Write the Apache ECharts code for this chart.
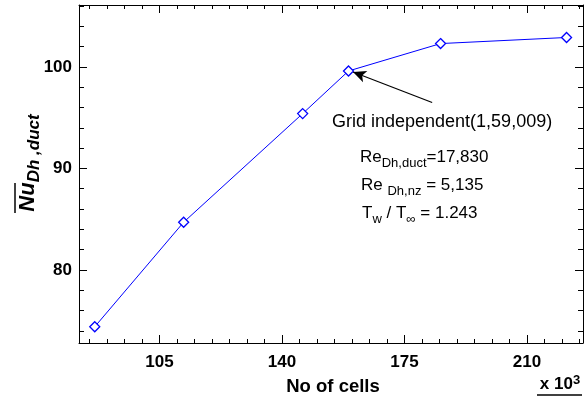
<!DOCTYPE html>
<html>
<head>
<meta charset="utf-8">
<script src="https://cdn.jsdelivr.net/npm/echarts@6/dist/echarts.min.js"></script>
<style>
  html, body { margin: 0; padding: 0; background: #fff; }
  #chart { width: 588px; height: 400px; }
</style>
</head>
<body>
<div id="chart"></div>
<script>
// grid size (x 10^3 cells) vs averaged duct Nusselt number
const cells = [86.5, 111.9, 145.9, 159.0, 185.3, 221.3];
const nusselt = [74.4, 84.7, 95.4, 99.6, 102.3, 102.9];

const xLabels = [105, 140, 175, 210];
const yLabels = [80, 90, 100];
const xMinor = [];
for (let v = 85; v <= 225; v += 5) if (xLabels.indexOf(v) < 0) xMinor.push(v);
const yMinor = [];
for (let v = 74; v <= 106; v += 2) if (yLabels.indexOf(v) < 0) yMinor.push(v);

// arrow from label to the grid-independent point
const arrowFrom = [182.9, 96.5];
const arrowTo = [160.3, 99.5];

const FONT = '"Liberation Sans", Arial, sans-serif';
const X_MIN = 82, X_MAX = 226, Y_MIN = 72.8, Y_MAX = 106.1;

function xAxisDef(pos, ticks, len, showLine, labels) {
    return {
        type: 'value', position: pos, min: X_MIN, max: X_MAX,
        axisLine: { show: showLine, onZero: false, lineStyle: { color: '#000', width: 1 } },
        axisTick: { show: true, inside: true, length: len, customValues: ticks, lineStyle: { color: '#000' } },
        axisLabel: labels ? { show: true, customValues: ticks, color: '#000', fontFamily: FONT, fontWeight: 'bold', fontSize: 17, margin: 11 } : { show: false },
        splitLine: { show: false }
    };
}
function yAxisDef(pos, ticks, len, showLine, labels) {
    return {
        type: 'value', position: pos, min: Y_MIN, max: Y_MAX,
        axisLine: { show: showLine, onZero: false, lineStyle: { color: '#000', width: 1 } },
        axisTick: { show: true, inside: true, length: len, customValues: ticks, lineStyle: { color: '#000' } },
        axisLabel: labels ? { show: true, customValues: ticks, color: '#000', fontFamily: FONT, fontWeight: 'bold', fontSize: 17, margin: 7 } : { show: false },
        splitLine: { show: false }
    };
}

const chart = echarts.init(document.getElementById('chart'));
const option = {
    animation: false,
    backgroundColor: '#fff',
    grid: { left: 79, right: 5, top: 5, bottom: 57 },
    xAxis: [
        xAxisDef('bottom', xLabels, 8, true, true),
        xAxisDef('bottom', xMinor, 4, false, false),
        xAxisDef('top', xLabels, 8, true, false),
        xAxisDef('top', xMinor, 4, false, false)
    ],
    yAxis: [
        yAxisDef('left', yLabels, 8, true, true),
        yAxisDef('left', yMinor, 5, false, false),
        yAxisDef('right', yLabels, 8, true, false),
        yAxisDef('right', yMinor, 5, false, false)
    ],
    series: [{
        type: 'line',
        xAxisIndex: 0,
        yAxisIndex: 0,
        data: cells.map((c, i) => [c, nusselt[i]]),
        symbol: 'diamond',
        symbolSize: 10,
        lineStyle: { color: '#0000ff', width: 1 },
        itemStyle: { color: '#fff', borderColor: '#0000ff', borderWidth: 1.3 },
        markLine: {
            silent: true,
            symbol: ['none', 'arrow'],
            symbolSize: [9, 13],
            label: { show: false },
            lineStyle: { color: '#000', width: 1.2, type: 'solid' },
            data: [[{ coord: arrowFrom }, { coord: arrowTo }]]
        }
    }],
    graphic: [
        {
            type: 'text', x: 27.5, y: 163, rotation: Math.PI / 2,
            style: {
                text: '{nu|Nu}{sub|Dh ,duct}',
                align: 'center', verticalAlign: 'middle', fill: '#000',
                rich: {
                    nu: { fontFamily: FONT, fontSize: 22, fontWeight: 'bold', fontStyle: 'italic', lineHeight: 30, fill: '#000' },
                    sub: { fontFamily: FONT, fontSize: 17, fontWeight: 'bold', fontStyle: 'italic', verticalAlign: 'bottom', fill: '#000' }
                }
            }
        },
        { type: 'line', shape: { x1: 15, y1: 183, x2: 15, y2: 213 }, style: { stroke: '#000', lineWidth: 1.5 } },
        {
            type: 'text', x: 333, y: 387,
            style: { text: 'No of cells', align: 'center', verticalAlign: 'middle', fill: '#000', font: 'bold 18.5px ' + FONT }
        },
        {
            type: 'text', x: 560, y: 384,
            style: {
                text: '{a|x 10}{s|3}', align: 'center', verticalAlign: 'middle', fill: '#000',
                rich: {
                    a: { fontFamily: FONT, fontSize: 17, fontWeight: 'bold', lineHeight: 20, fill: '#000' },
                    s: { fontFamily: FONT, fontSize: 13, fontWeight: 'bold', verticalAlign: 'top', fill: '#000' }
                }
            }
        },
        { type: 'line', shape: { x1: 537, y1: 395, x2: 582, y2: 395 }, style: { stroke: '#000', lineWidth: 1.5 } },
        {
            type: 'text', x: 332, y: 122,
            style: { text: 'Grid independent(1,59,009)', align: 'left', verticalAlign: 'middle', fill: '#000', font: '18px ' + FONT }
        },
        {
            type: 'text', x: 360, y: 157,
            style: {
                text: '{m|Re}{s|Dh,duct}{m|=17,830}', align: 'left', verticalAlign: 'middle', fill: '#000',
                rich: {
                    m: { fontFamily: FONT, fontSize: 17, lineHeight: 25, fill: '#000' },
                    s: { fontFamily: FONT, fontSize: 13, verticalAlign: 'bottom', fill: '#000' }
                }
            }
        },
        {
            type: 'text', x: 361, y: 185,
            style: {
                text: '{m|Re }{s|Dh,nz}{m| = 5,135}', align: 'left', verticalAlign: 'middle', fill: '#000',
                rich: {
                    m: { fontFamily: FONT, fontSize: 17, lineHeight: 25, fill: '#000' },
                    s: { fontFamily: FONT, fontSize: 13, verticalAlign: 'bottom', fill: '#000' }
                }
            }
        },
        {
            type: 'text', x: 362, y: 213,
            style: {
                text: '{m|T}{s|w}{m| / T}{s|∞}{m| = 1.243}', align: 'left', verticalAlign: 'middle', fill: '#000',
                rich: {
                    m: { fontFamily: FONT, fontSize: 17, lineHeight: 25, fill: '#000' },
                    s: { fontFamily: FONT, fontSize: 13, verticalAlign: 'bottom', fill: '#000' }
                }
            }
        }
    ]
};
chart.setOption(option);
window.addEventListener('resize', () => chart.resize());
</script>
</body>
</html>
